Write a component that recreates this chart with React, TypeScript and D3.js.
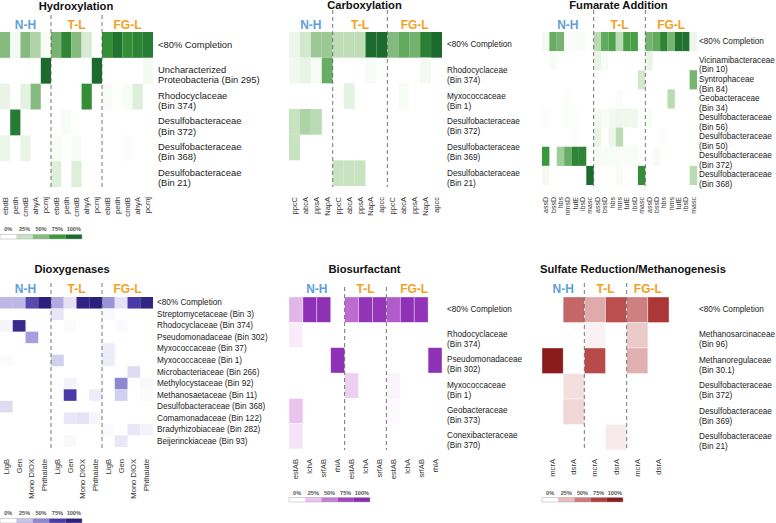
import React from "react";
import * as d3 from "d3";

// ---------------- DATA ----------------
const groupNames = ["N-H", "T-L", "FG-L"];
const legendTicks = ["0%", "25%", "50%", "75%", "100%"];
const legendStops = [0, 0.25, 0.5, 0.75, 1];

// Hydroxylation
const hydroxGenes = [
  ["ebdB", "pedh", "cmdB", "ahyA", "pcmj"],
  ["ebdB", "pedh", "cmdB", "ahyA", "pcmj"],
  ["ebdB", "pedh", "cmdB", "ahyA", "pcmj"],
];
const hydroxRows = [
  "<80% Completion",
  "Uncharacterized\nProteobacteria (Bin 295)",
  "Rhodocyclaceae\n(Bin 374)",
  "Desulfobacteraceae\n(Bin 372)",
  "Desulfobacteraceae\n(Bin 368)",
  "Desulfobacteraceae\n(Bin 21)",
];
const hydroxValues = [
  [0.5, 0.05, 0.5, 0.35, 0.03, 0.55, 0.85, 0.5, 0.18, 0, 0.8, 0.95, 0.8, 0.85, 0.9],
  [0, 0, 0, 0, 1, 0, 0, 0, 0, 1, 0, 0, 0, 0, 0.05],
  [0.1, 0, 0.12, 0.5, 0, 0, 0, 0, 0.8, 0, 0.03, 0, 0.03, 0.15, 0],
  [0, 0.9, 0, 0, 0, 0, 0.03, 0, 0, 0, 0, 0, 0, 0, 0],
  [0.08, 0, 0.1, 0, 0, 0.03, 0, 0.03, 0, 0, 0, 0, 0.02, 0, 0],
  [0, 0, 0, 0, 0, 0.15, 0, 0.15, 0, 0, 0, 0, 0, 0, 0],
];

// Carboxylation
const carbGenes = [
  ["ppcC", "abcA", "ppsA", "NapA"],
  ["ppcC", "abcA", "ppsA", "NapA", "apcc"],
  ["ppcC", "abcA", "ppsA", "NapA", "apcc"],
];
const carbRows = [
  "<80% Completion",
  "Rhodocyclaceae\n(Bin 374)",
  "Myxococcaceae\n(Bin 1)",
  "Desulfobacteraceae\n(Bin 372)",
  "Desulfobacteraceae\n(Bin 369)",
  "Desulfobacteraceae\n(Bin 21)",
];
const carbValues = [
  [0.08, 0.2, 0.42, 0.42, 0.28, 0.28, 0.28, 1, 1, 0.5, 0.62, 0.56, 0.88, 1],
  [0.06, 0.1, 0.04, 0.6, 0, 0, 0, 0.04, 0, 0, 0, 0, 0.05, 0],
  [0, 0, 0, 0, 0, 0.12, 0, 0, 0, 0, 0.03, 0, 0, 0],
  [0.25, 0.35, 0.3, 0, 0, 0, 0, 0, 0, 0, 0, 0, 0, 0],
  [0.25, 0, 0, 0, 0, 0, 0, 0, 0, 0, 0, 0, 0, 0],
  [0, 0, 0, 0, 0.25, 0.25, 0.25, 0, 0, 0, 0, 0, 0, 0],
];

// Fumarate Addition
const fumGenes = [
  ["assD", "bssD", "hbs", "nmsD", "tutE", "ibsD", "masc"],
  ["assD", "bssD", "hbs", "nms", "tutE", "ibsD", "masc"],
  ["assD", "bssD", "hbs", "nms", "tutE", "ibsD", "masc"],
];
const fumRows = [
  "<80% Completion",
  "Vicinamibacteraceae\n(Bin 10)",
  "Syntrophaceae\n(Bin 84)",
  "Geobacteraceae\n(Bin 34)",
  "Desulfobacteraceae\n(Bin 56)",
  "Desulfobacteraceae\n(Bin 50)",
  "Desulfobacteraceae\n(Bin 372)",
  "Desulfobacteraceae\n(Bin 368)",
];
const fumValues = [
  [0.05, 0.6, 0.55, 0.03, 0.03, 0.03, 0, 0.3, 0.62, 0.68, 0.3, 0.7, 0.7, 0.04, 0.55, 0.62, 0.85, 0.55, 0.95, 0.95, 0.08],
  [0, 0.03, 0, 0, 0, 0, 0, 0.1, 0.03, 0, 0, 0, 0, 0, 0.1, 0, 0, 0, 0, 0, 0],
  [0, 0, 0, 0, 0, 0, 0, 0, 0, 0, 0, 0, 0, 0.2, 0, 0, 0, 0, 0, 0, 0.55],
  [0, 0, 0, 0.02, 0, 0, 0, 0, 0, 0, 0.02, 0, 0, 0, 0, 0, 0, 0.3, 0, 0, 0],
  [0.02, 0, 0, 0.02, 0.02, 0, 0, 0.05, 0.03, 0.05, 0.07, 0.07, 0.07, 0, 0.03, 0, 0, 0, 0, 0, 0],
  [0, 0, 0, 0, 0.02, 0, 0, 0.1, 0, 0.07, 0.3, 0, 0, 0, 0, 0, 0.02, 0, 0, 0, 0],
  [0.75, 0, 0.4, 0.6, 0.85, 0.85, 0, 0.03, 0.03, 0.03, 0.03, 0.03, 0.03, 0, 0, 0.03, 0, 0, 0, 0, 0],
  [0.05, 0, 0, 0, 0, 0, 1, 0, 0, 0, 0.03, 0, 0, 0.8, 0, 0, 0, 0, 0, 0, 0.3],
];

// Dioxygenases
const dioxGenes = [
  ["LigB", "Gen", "Mono DIOX", "Phthalate"],
  ["LigB", "Gen", "Mono DIOX", "Phthalate"],
  ["LigB", "Gen", "Mono DIOX", "Phthalate"],
];
const dioxRows = [
  "<80% Completion",
  "Streptomycetaceae (Bin 3)",
  "Rhodocyclaceae (Bin 374)",
  "Pseudomonadaceae (Bin 302)",
  "Myxococcaceae (Bin 37)",
  "Myxococcaceae (Bin 1)",
  "Microbacteriaceae (Bin 266)",
  "Methylocystaceae (Bin 92)",
  "Methanosaetaceae (Bin 11)",
  "Desulfobacteraceae (Bin 368)",
  "Comamonadaceae (Bin 122)",
  "Bradyrhizobiaceae (Bin 282)",
  "Beijerinckiaceae (Bin 93)",
];
const dioxValues = [
  [0.3, 0.3, 0.7, 1, 0.35, 0.12, 0.95, 1, 0.45, 0.12, 0.75, 0.95],
  [0, 0, 0, 0, 0.1, 0, 0, 0, 0.03, 0, 0, 0],
  [0.04, 0.9, 0, 0, 0, 0.02, 0, 0, 0, 0.02, 0, 0],
  [0, 0, 0.4, 0, 0, 0, 0, 0, 0, 0, 0, 0],
  [0, 0, 0, 0, 0, 0, 0, 0, 0.08, 0, 0, 0],
  [0.02, 0, 0, 0, 0.2, 0, 0, 0, 0.08, 0, 0, 0],
  [0, 0, 0, 0, 0, 0, 0, 0, 0, 0, 0.15, 0],
  [0, 0, 0, 0, 0, 0.05, 0, 0, 0, 0.5, 0, 0.03],
  [0, 0, 0, 0, 0, 0.75, 0, 0.08, 0, 0.2, 0, 0.02],
  [0.15, 0, 0, 0, 0, 0, 0, 0, 0, 0, 0, 0],
  [0, 0, 0, 0, 0, 0.1, 0.12, 0.04, 0, 0, 0, 0],
  [0, 0, 0, 0, 0, 0, 0, 0, 0.02, 0, 0.1, 0.05],
  [0, 0, 0, 0, 0, 0.03, 0, 0, 0, 0.1, 0, 0],
];

// Biosurfactant
const bioGenes = [
  ["estAB", "lchA", "srfAB", "rhlA"],
  ["estAB", "lchA", "srfAB"],
  ["estAB", "lchA", "srfAB", "rhlA"],
];
const bioRows = [
  "<80% Completion",
  "Rhodocyclaceae\n(Bin 374)",
  "Pseudomonadaceae\n(Bin 302)",
  "Myxococcaceae\n(Bin 1)",
  "Geobacteraceae\n(Bin 373)",
  "Conexibacteraceae\n(Bin 370)",
];
const bioValues = [
  [0.3, 0.95, 0.95, 0, 0.58, 0.92, 0.9, 0.65, 0.95, 0.92, 0],
  [0.08, 0, 0, 0, 0, 0, 0, 0, 0, 0, 0],
  [0, 0, 0, 0.95, 0, 0, 0, 0, 0, 0, 0.95],
  [0, 0, 0, 0, 0.2, 0, 0, 0.05, 0, 0, 0],
  [0.25, 0, 0, 0, 0, 0, 0, 0.02, 0, 0, 0],
  [0.12, 0, 0, 0, 0, 0, 0, 0, 0, 0, 0],
];

// Sulfate Reduction / Methanogenesis
const sulfGenes = [
  ["mcrA", "dsrA"],
  ["mcrA", "dsrA"],
  ["mcrA", "dsrA"],
];
const sulfRows = [
  "<80% Completion",
  "Methanosarcinaceae\n(Bin 96)",
  "Methanoregulaceae\n(Bin 30.1)",
  "Desulfobacteraceae\n(Bin 372)",
  "Desulfobacteraceae\n(Bin 369)",
  "Desulfobacteraceae\n(Bin 21)",
];
const sulfValues = [
  [0, 0.58, 0.32, 0.68, 0.48, 0.8],
  [0, 0, 0.05, 0, 0.2, 0],
  [1, 0, 0.7, 0, 0.3, 0],
  [0, 0.12, 0, 0, 0, 0],
  [0, 0.15, 0, 0, 0, 0],
  [0, 0, 0, 0.08, 0, 0],
];

// ---------------- STYLE ----------------
const greens = ["#ffffff", "#c7e3c0", "#86bb80", "#3a973a", "#1b6a2e"];
const indigos = ["#ffffff", "#c8c3eb", "#8f87d3", "#4a3aa8", "#2b1e7c"];
const violets = ["#ffffff", "#e8c4ee", "#c47ed6", "#a445c2", "#8a2cb4"];
const reds = ["#ffffff", "#e6bdbd", "#cc7a7a", "#b43e3e", "#8c1c1c"];

const FONT = "'Liberation Sans', Arial, Helvetica, sans-serif";
const groupColors = ["#5f9fd9", "#f4a11d", "#f4a11d"];

type Legend = { x0: number; x1: number; barY: number; labelY: number };
type PanelSpec = {
  title: string;
  genes: string[][];
  rows: string[];
  values: number[][];
  palette: string[];
  x0: number; x1: number; y0: number; y1: number;
  titleX: number; titleY: number;
  groupY: number; dashTop: number;
  labelX: number; labelSize: number; firstOff: number; lineGap: number;
  colLabelY: number; colLabelSize: number;
  cellStroke?: number;
  legend?: Legend;
};

function Panel({ p }: { p: PanelSpec }) {
  const cols: string[] = [];
  p.genes.forEach((gs, gi) => gs.forEach((g) => cols.push(`${gi}|${g}`)));
  const x = d3.scaleBand<string>().domain(cols).range([p.x0, p.x1]).padding(0);
  const y = d3.scaleBand<string>().domain(p.rows.map((_, i) => String(i))).range([p.y0, p.y1]).padding(0);
  const color = d3.scaleLinear<string>().domain(legendStops).range(p.palette).interpolate(d3.interpolateRgb).clamp(true);

  const groupStarts: number[] = [];
  const groupCenters: number[] = [];
  let idx = 0;
  p.genes.forEach((gs) => {
    const first = cols[idx];
    const last = cols[idx + gs.length - 1];
    const a = x(first)!;
    const b = x(last)! + x.bandwidth();
    groupStarts.push(a);
    groupCenters.push((a + b) / 2);
    idx += gs.length;
  });

  const legendScale = p.legend
    ? d3.scaleBand<string>().domain(legendTicks).range([p.legend.x0, p.legend.x1])
    : null;

  return (
    <g>
      <text x={p.titleX} y={p.titleY} textAnchor="middle" fontWeight="bold" fontSize={11.2} fill="#111" fontFamily={FONT}>
        {p.title}
      </text>
      {groupNames.map((gname, gi) => (
        <text key={gname} x={groupCenters[gi]} y={p.groupY} textAnchor="middle" fontWeight="bold" fontSize={12}
          fill={groupColors[gi]} fontFamily={FONT}>
          {gname}
        </text>
      ))}
      {p.values.map((row, ri) =>
        row.map((v, ci) =>
          v > 0 ? (
            <rect key={`${ri}-${ci}`} x={x(cols[ci])} y={y(String(ri))} width={x.bandwidth()} height={y.bandwidth()}
              fill={color(v)} stroke={p.cellStroke ? "#ffffff" : "none"} strokeOpacity={0.6}
              strokeWidth={p.cellStroke || 0} />
          ) : null
        )
      )}
      {groupStarts.slice(1).map((gx, i) => (
        <line key={i} x1={gx} x2={gx} y1={p.dashTop} y2={p.y1 + 1} stroke="#555" strokeWidth={0.8} strokeDasharray="4,3" />
      ))}
      {p.rows.map((r, ri) => {
        const lines = r.split("\n");
        const cy = y(String(ri))! + y.bandwidth() / 2;
        if (lines.length === 1) {
          return (
            <text key={ri} x={p.labelX} y={cy} dominantBaseline="central" fontSize={p.labelSize} fill="#222" fontFamily={FONT}>
              {r}
            </text>
          );
        }
        return (
          <text key={ri} x={p.labelX} fontSize={p.labelSize} fill="#222" fontFamily={FONT} dominantBaseline="central">
            {lines.map((l, li) => (
              <tspan key={li} x={p.labelX} y={cy + p.firstOff + li * p.lineGap}>{l}</tspan>
            ))}
          </text>
        );
      })}
      {cols.map((c) => {
        const cx = x(c)! + x.bandwidth() / 2;
        return (
          <text key={c} transform={`translate(${cx},${p.colLabelY}) rotate(-90)`} textAnchor="end" dominantBaseline="central"
            fontSize={p.colLabelSize} fill="#333" fontFamily={FONT}>
            {c.split("|")[1]}
          </text>
        );
      })}
      {p.legend && legendScale && (
        <g>
          {legendTicks.map((t, i) => (
            <g key={t}>
              <rect x={legendScale(t)} y={p.legend!.barY} width={legendScale.bandwidth()} height={4.5}
                fill={color(legendStops[i])} />
              <text x={legendScale(t)! + legendScale.bandwidth() / 2} y={p.legend!.labelY} textAnchor="middle"
                fontSize={5.6} fontWeight="bold" fill="#555" fontFamily={FONT}>
                {t}
              </text>
            </g>
          ))}
          <rect x={p.legend.x0} y={p.legend.barY} width={p.legend.x1 - p.legend.x0} height={4.5} fill="none"
            stroke="#aaa" strokeWidth={0.5} />
        </g>
      )}
    </g>
  );
}

export default function App() {
  const panels: PanelSpec[] = [
    {
      title: "Hydroxylation", genes: hydroxGenes, rows: hydroxRows, values: hydroxValues, palette: greens,
      x0: 0, x1: 153, y0: 32, y1: 187, titleX: 76, titleY: 9.5, groupY: 28.5, dashTop: 15,
      labelX: 158, labelSize: 9.4, firstOff: -2, lineGap: 10.2, colLabelY: 197, colLabelSize: 7.7,
      legend: { x0: 0, x1: 82, barY: 234.5, labelY: 231 },
    },
    {
      title: "Carboxylation", genes: carbGenes, rows: carbRows, values: carbValues, palette: greens,
      x0: 289, x1: 442, y0: 32, y1: 186, titleX: 364.5, titleY: 9, groupY: 28.5, dashTop: 10,
      labelX: 447, labelSize: 8.2, firstOff: -0.5, lineGap: 10, colLabelY: 197, colLabelSize: 7.5,
    },
    {
      title: "Fumarate Addition", genes: fumGenes, rows: fumRows, values: fumValues, palette: greens,
      x0: 542, x1: 697, y0: 32, y1: 185, titleX: 618.5, titleY: 9, groupY: 28.5, dashTop: 10,
      labelX: 699, labelSize: 8.2, firstOff: -1, lineGap: 9.7, colLabelY: 197, colLabelSize: 7,
    },
    {
      title: "Dioxygenases", genes: dioxGenes, rows: dioxRows, values: dioxValues, palette: indigos,
      x0: 0, x1: 153, y0: 297, y1: 447, titleX: 72, titleY: 273, groupY: 292.5, dashTop: 283,
      labelX: 157, labelSize: 8.2, firstOff: 0, lineGap: 10, colLabelY: 459, colLabelSize: 7.6,
      legend: { x0: 0, x1: 82, barY: 518.5, labelY: 515 },
    },
    {
      title: "Biosurfactant", genes: bioGenes, rows: bioRows, values: bioValues, palette: violets,
      x0: 289, x1: 442, y0: 297, y1: 449, titleX: 364.5, titleY: 273, groupY: 292.5, dashTop: 287,
      labelX: 447, labelSize: 8.2, firstOff: -1, lineGap: 10, colLabelY: 459, colLabelSize: 7.6,
      cellStroke: 0.6,
      legend: { x0: 289, x1: 370, barY: 497.5, labelY: 495 },
    },
    {
      title: "Sulfate Reduction/Methanogenesis", genes: sulfGenes, rows: sulfRows, values: sulfValues, palette: reds,
      x0: 542, x1: 669, y0: 297, y1: 450, titleX: 633, titleY: 273, groupY: 292.5, dashTop: 283,
      labelX: 699, labelSize: 8.2, firstOff: -1, lineGap: 10, colLabelY: 459, colLabelSize: 7.6,
      cellStroke: 0.6,
      legend: { x0: 542, x1: 623, barY: 497.5, labelY: 495 },
    },
  ];

  return (
    <svg width={776} height={523} style={{ position: "absolute", left: 0, top: 0, background: "#fff" }}>
      <rect x={0} y={0} width={776} height={523} fill="#fff" />
      {panels.map((p) => (
        <Panel key={p.title} p={p} />
      ))}
    </svg>
  );
}
